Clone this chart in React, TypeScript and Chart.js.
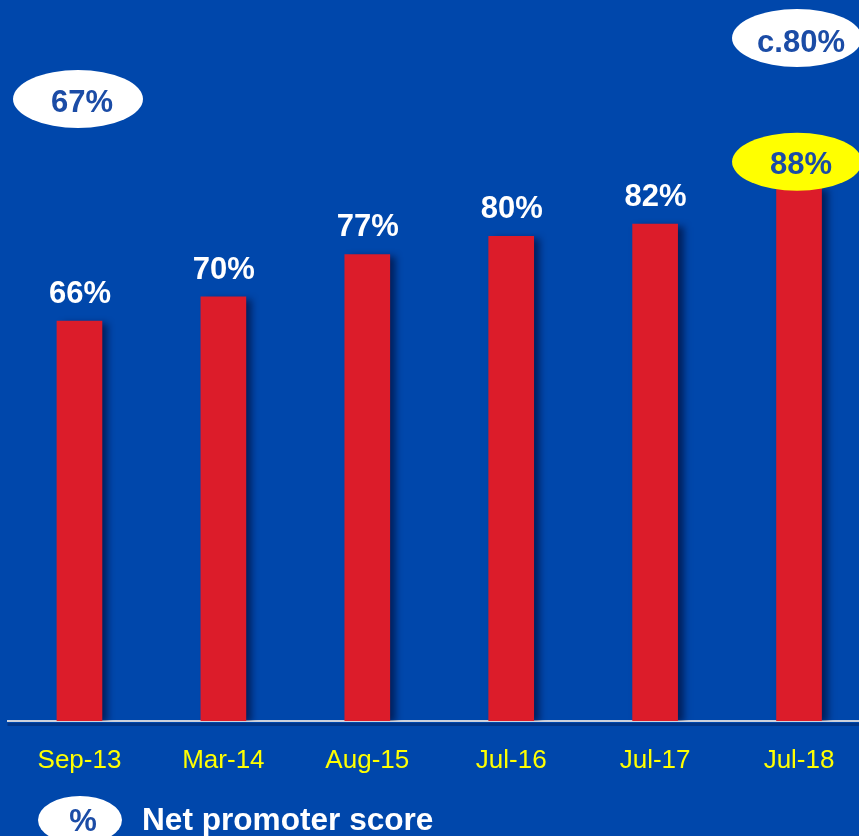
import React, { useEffect, useRef } from "react";
import { Chart, registerables } from "chart.js";

Chart.register(...registerables);

const categories = ["Sep-13", "Mar-14", "Aug-15", "Jul-16", "Jul-17", "Jul-18"];
const npsValues = [66, 70, 77, 80, 82, 88];
const valueLabels = ["66%", "70%", "77%", "80%", "82%", "88%"];
const highlightIndex = 5;
const leftCallout = "67%";
const rightCallout = "c.80%";
const legendSymbol = "%";
const legendLabel = "Net promoter score";
const yMin = 0;
const yMax = 119;

const BG = "#0047AB";
const BAR = "#DC1C2A";
const TEXT_BLUE = "#1B4CA6";
const FONT = "'Liberation Sans', Arial, Helvetica, sans-serif";

function ellipse(ctx: CanvasRenderingContext2D, cx: number, cy: number, rx: number, ry: number, fill: string) {
  ctx.beginPath();
  ctx.ellipse(cx, cy, rx, ry, 0, 0, Math.PI * 2);
  ctx.fillStyle = fill;
  ctx.fill();
}

function text(ctx: CanvasRenderingContext2D, s: string, x: number, y: number, color: string, size: number, bold: boolean, align: CanvasTextAlign = "center") {
  ctx.font = `${bold ? "bold " : ""}${size}px ${FONT}`;
  ctx.fillStyle = color;
  ctx.textAlign = align;
  ctx.textBaseline = "alphabetic";
  ctx.fillText(s, x, y);
}

const decorPlugin = {
  id: "decor",
  beforeDatasetsDraw(chart: any) {
    const ctx = chart.ctx;
    ctx.save();
    ctx.shadowColor = "rgba(0, 10, 50, 0.65)";
    ctx.shadowOffsetX = 6;
    ctx.shadowOffsetY = 2;
    ctx.shadowBlur = 7;
  },
  afterDatasetsDraw(chart: any) {
    const ctx = chart.ctx;
    ctx.restore();
    const meta = chart.getDatasetMeta(0);
    meta.data.forEach((bar: any, i: number) => {
      const x = bar.x;
      const top = bar.y;
      if (i === highlightIndex) {
        ellipse(ctx, x - 2, top - 26, 65, 29, "#FFFF00");
        text(ctx, valueLabels[i], x + 2, top - 14, TEXT_BLUE, 31, true);
      } else {
        text(ctx, valueLabels[i], x + 0.5, top - 18, "#FFFFFF", 31, true);
      }
    });
  },
  afterDraw(chart: any) {
    const ctx = chart.ctx;
    ctx.save();
    // soft shadow under the baseline
    const area = chart.chartArea;
    ctx.fillStyle = "rgba(0, 20, 70, 0.35)";
    ctx.fillRect(area.left, area.bottom + 2, area.right - area.left, 3);
    ellipse(ctx, 78, 99, 65, 29, "#FFFFFF");
    text(ctx, leftCallout, 82, 112, TEXT_BLUE, 31, true);
    ellipse(ctx, 797, 38, 65, 29, "#FFFFFF");
    text(ctx, rightCallout, 801, 52, TEXT_BLUE, 31, true);
    ellipse(ctx, 80, 820, 42, 24, "#FFFFFF");
    text(ctx, legendSymbol, 83, 831, TEXT_BLUE, 31, true);
    text(ctx, legendLabel, 142, 830, "#FFFFFF", 31.6, true, "left");
    ctx.restore();
  },
};

export default function App() {
  const ref = useRef<HTMLCanvasElement | null>(null);

  useEffect(() => {
    if (!ref.current) return;
    const chart = new Chart(ref.current, {
      type: "bar",
      data: {
        labels: categories,
        datasets: [
          {
            data: npsValues,
            backgroundColor: BAR,
            borderWidth: 0,
            barThickness: 45,
          },
        ],
      },
      options: {
        animation: false,
        responsive: false,
        devicePixelRatio: 1,
        layout: { padding: { left: 7.5, right: 0, top: 0, bottom: 0 } },
        plugins: { legend: { display: false }, tooltip: { enabled: false } },
        scales: {
          x: {
            type: "category",
            offset: true,
            grid: { display: false, drawTicks: false },
            border: { display: true, color: "#CDD2DC", width: 2 },
            ticks: {
              color: "#FFFF00",
              padding: 24,
              font: { family: FONT, size: 26 },
              maxRotation: 0,
              autoSkip: false,
            },
            afterFit: (axis: any) => {
              axis.height = 115;
            },
          },
          y: { display: false, min: yMin, max: yMax },
        },
      },
      plugins: [decorPlugin],
    } as any);
    return () => chart.destroy();
  }, []);

  return (
    <div
      style={{
        position: "fixed",
        left: 0,
        top: 0,
        width: 859,
        height: 836,
        overflow: "hidden",
        background: BG,
      }}
    >
      <canvas ref={ref} width={871} height={836} style={{ position: "absolute", left: 0, top: 0, width: 871, height: 836 }} />
    </div>
  );
}
